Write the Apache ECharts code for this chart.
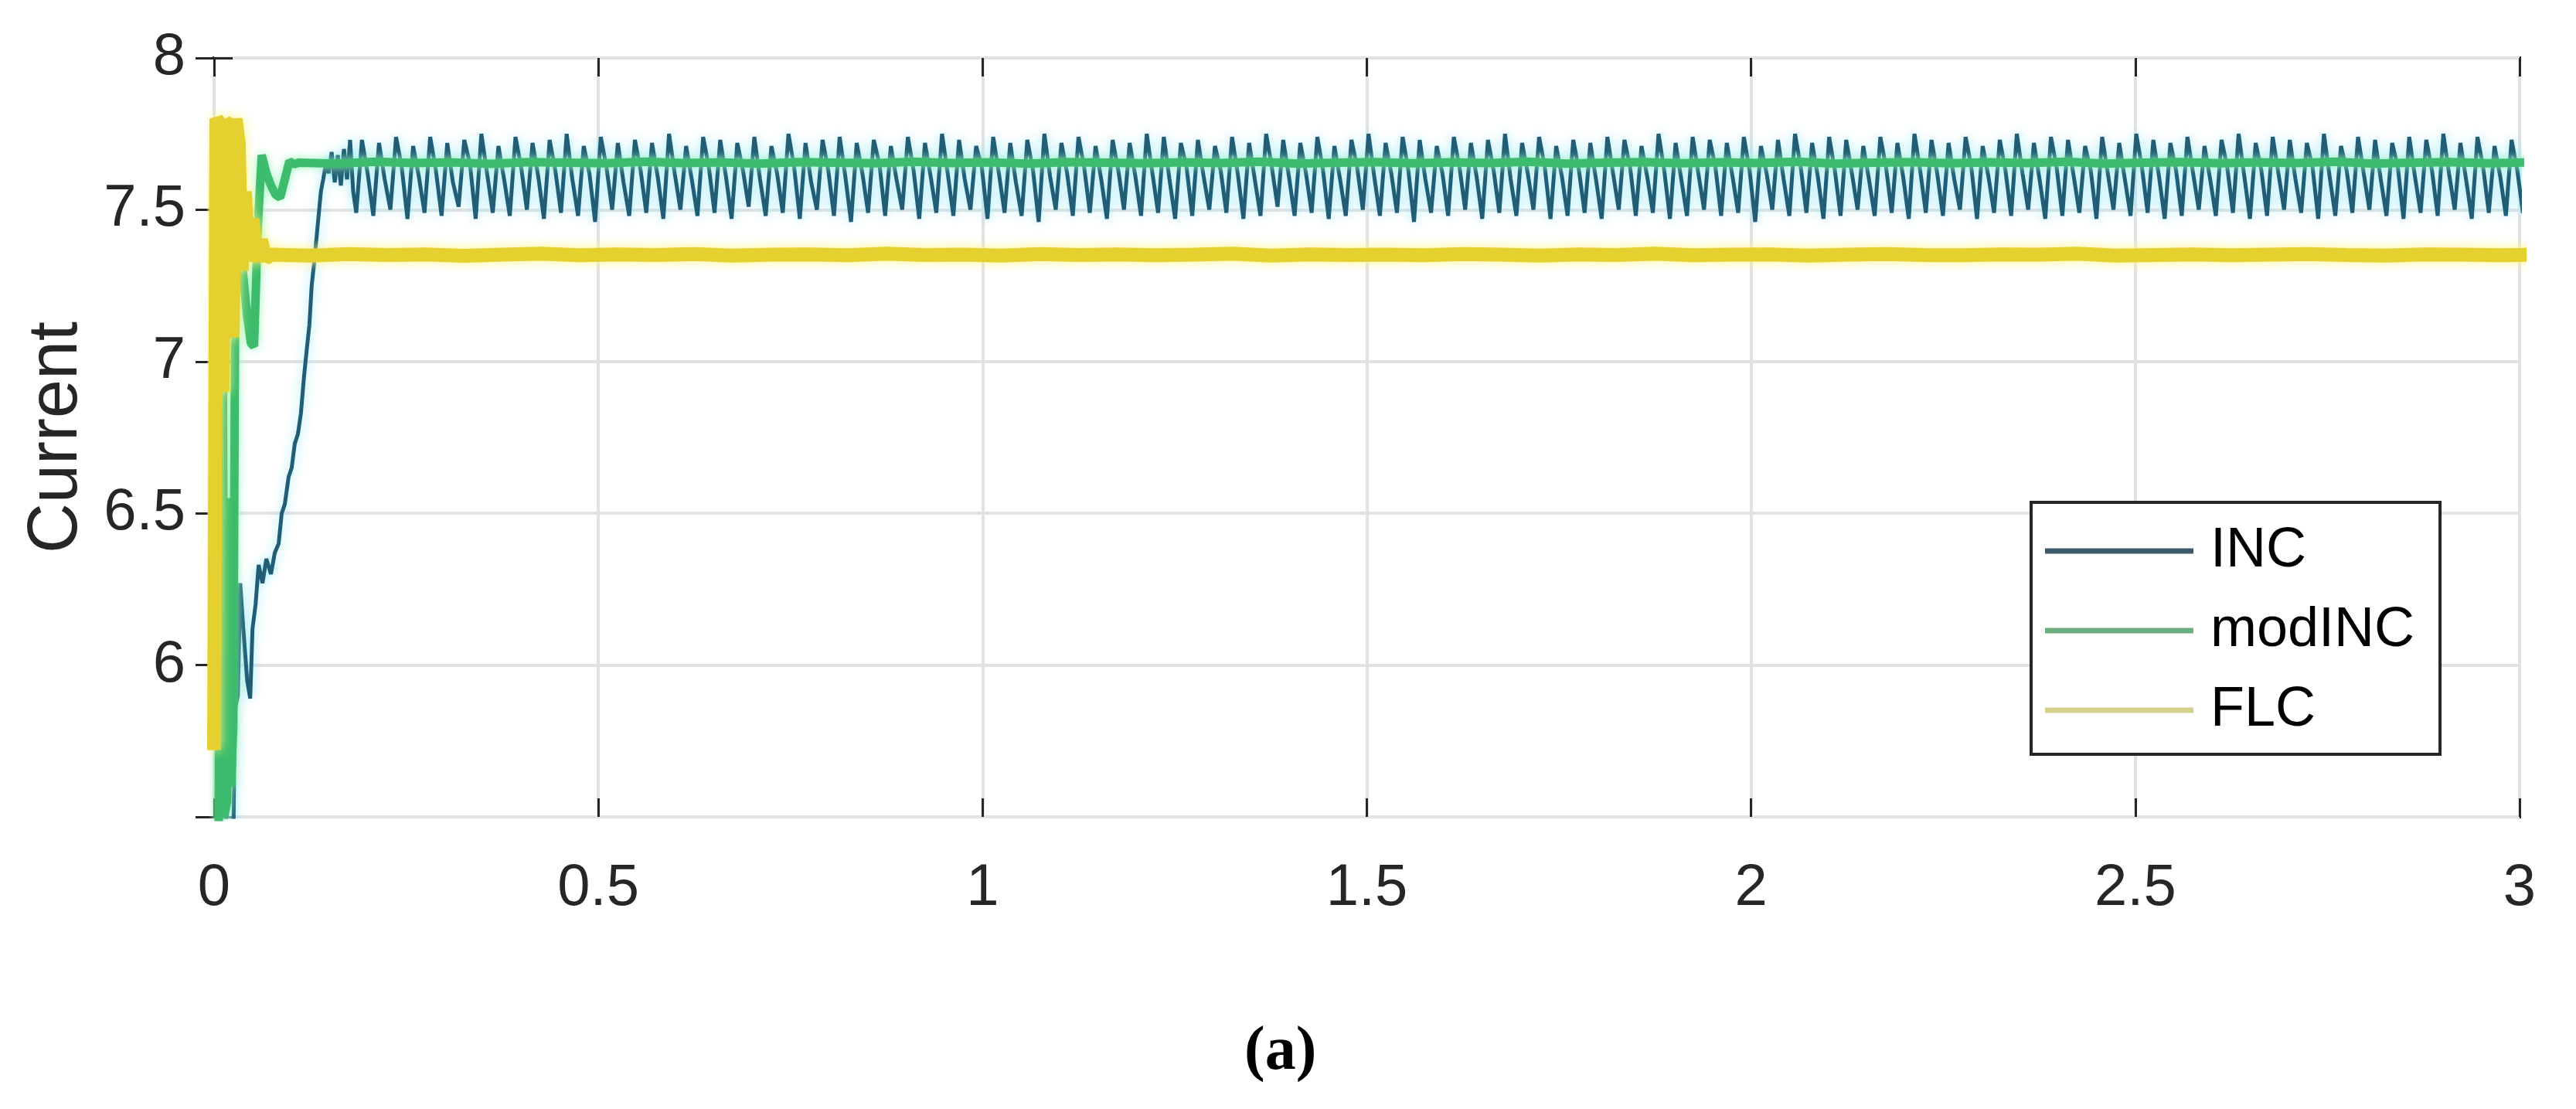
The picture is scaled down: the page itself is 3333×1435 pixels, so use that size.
<!DOCTYPE html>
<html>
<head>
<meta charset="utf-8">
<script src="https://cdn.jsdelivr.net/npm/echarts@6/dist/echarts.min.js"></script>
<style>
html,body{margin:0;padding:0;background:#fff;}
#chart{width:3333px;height:1435px;}
</style>
</head>
<body>
<div id="chart"></div>
<script>
// ---------------- data ----------------
const SERIES_NAMES = ['INC', 'modINC', 'FLC'];
const X_TICKS = [0, 0.5, 1, 1.5, 2, 2.5, 3];
const Y_TICKS = [6, 6.5, 7, 7.5, 8];

// INC: start-up transient [time, current]
const INC_TRANSIENT = [
  [0.000,5.30],[0.011,5.30],[0.013,5.72],[0.016,5.45],[0.025,5.40],[0.027,5.85],[0.031,5.90],
  [0.034,6.27],[0.038,6.12],[0.043,5.95],[0.047,5.89],[0.050,6.12],[0.054,6.20],[0.058,6.33],
  [0.063,6.27],[0.068,6.35],[0.074,6.30],[0.079,6.37],[0.084,6.40],[0.088,6.50],[0.092,6.53],
  [0.097,6.62],[0.101,6.65],[0.105,6.73],[0.109,6.76],[0.113,6.83],[0.117,6.95],[0.121,7.05],
  [0.124,7.12],[0.127,7.25],[0.130,7.32],[0.133,7.40],[0.136,7.48],[0.139,7.56],[0.142,7.60],
  [0.146,7.66],[0.149,7.62],[0.153,7.69],[0.157,7.59],[0.161,7.68],[0.165,7.58],[0.169,7.70],
  [0.173,7.60],[0.177,7.73],[0.181,7.56]
];
// INC: steady-state ripple, sampled from t = 0.185 s every 0.0074 s
const INC_T0 = 0.185;
const INC_DT = 0.0074;
const INC_STEADY = [
  7.49,7.73,7.62, 7.48,7.72,7.60, 7.50,7.74,7.64, 7.47,7.71,7.61, 7.49,7.74,7.63, 7.48,7.72,7.59, 7.51,7.73,7.65, 7.47,7.75,7.62,
  7.49,7.71,7.60, 7.48,7.74,7.64, 7.50,7.72,7.61, 7.47,7.73,7.63, 7.49,7.75,7.60, 7.48,7.71,7.62, 7.46,7.74,7.64, 7.50,7.72,7.59,
  7.48,7.73,7.63, 7.49,7.72,7.61, 7.47,7.75,7.62, 7.50,7.71,7.60, 7.48,7.74,7.64, 7.49,7.73,7.61, 7.47,7.72,7.63, 7.51,7.74,7.60,
  7.48,7.71,7.62, 7.49,7.75,7.64, 7.47,7.72,7.59, 7.50,7.73,7.63, 7.48,7.74,7.61, 7.46,7.72,7.62, 7.49,7.73,7.65, 7.48,7.71,7.60,
  7.50,7.74,7.63, 7.47,7.72,7.61, 7.49,7.75,7.62, 7.48,7.73,7.60, 7.50,7.71,7.64, 7.47,7.74,7.62, 7.49,7.72,7.59, 7.48,7.73,7.63,
  7.46,7.75,7.61, 7.50,7.72,7.62, 7.48,7.74,7.64, 7.49,7.71,7.60, 7.47,7.73,7.63, 7.50,7.72,7.61, 7.48,7.75,7.62, 7.49,7.74,7.60,
  7.47,7.72,7.64, 7.48,7.73,7.61, 7.50,7.71,7.63, 7.49,7.74,7.62, 7.47,7.72,7.60, 7.48,7.75,7.64, 7.51,7.73,7.61, 7.48,7.72,7.62,
  7.49,7.74,7.63, 7.47,7.71,7.60, 7.48,7.73,7.64, 7.50,7.75,7.61, 7.48,7.72,7.62, 7.49,7.74,7.63, 7.46,7.73,7.60, 7.49,7.71,7.62,
  7.48,7.74,7.64, 7.50,7.72,7.61, 7.47,7.73,7.63, 7.49,7.75,7.60, 7.48,7.72,7.62, 7.50,7.74,7.64, 7.47,7.71,7.61, 7.48,7.73,7.63,
  7.49,7.72,7.60, 7.47,7.74,7.62, 7.50,7.73,7.64, 7.48,7.71,7.61, 7.49,7.75,7.63, 7.47,7.72,7.60, 7.48,7.74,7.62, 7.50,7.73,7.64,
  7.48,7.72,7.61, 7.49,7.74,7.63, 7.46,7.71,7.62, 7.50,7.73,7.60, 7.48,7.75,7.64, 7.49,7.72,7.61, 7.47,7.74,7.63, 7.48,7.73,7.62,
  7.50,7.71,7.60, 7.48,7.74,7.64, 7.49,7.72,7.61, 7.47,7.75,7.63, 7.49,7.73,7.62, 7.48,7.72,7.60, 7.50,7.74,7.64, 7.47,7.71,7.61,
  7.49,7.73,7.63, 7.48,7.75,7.62, 7.50,7.72,7.60, 7.47,7.74,7.64, 7.48,7.73,7.61, 7.49,7.71,7.63, 7.47,7.74,7.62, 7.50,7.72,7.60,
  7.48,7.75,7.64, 7.49,7.73,7.61, 7.47,7.72,7.63, 7.48,7.74,7.62, 7.50,7.71,7.60, 7.48,7.73,7.64, 7.49,7.75,7.61, 7.47,7.72,7.63,
  7.48,7.74,7.62, 7.50,7.73,7.60, 7.49,7.72,7.64, 7.47,7.75,7.61, 7.48,7.71,7.63, 7.49,7.74,7.62, 7.50,7.73,7.60, 7.48,7.72,7.64,
  7.47,7.74,7.61, 7.49,7.73,7.63, 7.48,7.75,7.62, 7.50,7.72,7.60, 7.47,7.74,7.64, 7.49,7.71,7.61, 7.48,7.73,7.63, 7.49,7.72,7.55
];

// modINC: start-up transient [time, current]
const MODINC_TRANSIENT = [
  [0.000,5.45],[0.006,5.45],[0.008,7.60],[0.011,7.45],[0.013,5.50],[0.017,5.55],[0.019,6.55],
  [0.022,5.60],[0.025,5.80],[0.028,7.54],[0.033,7.40],[0.038,7.28],[0.043,7.15],[0.048,7.06],
  [0.052,7.05],[0.057,7.45],[0.062,7.68],[0.068,7.62],[0.074,7.58],[0.080,7.55],[0.086,7.54],
  [0.092,7.60],[0.098,7.66],[0.104,7.65]
];
// modINC: steady state, sampled from t = 0.11 s every 0.05 s
const MODINC_T0 = 0.11;
const MODINC_DT = 0.05;
const MODINC_STEADY = [
  7.655,7.652,7.658,7.654,7.656,7.651,7.657,7.655,7.653,7.658,
  7.654,7.656,7.652,7.657,7.655,7.653,7.658,7.654,7.656,7.652,
  7.657,7.655,7.653,7.656,7.654,7.658,7.652,7.655,7.657,7.653,
  7.656,7.654,7.658,7.652,7.655,7.657,7.653,7.656,7.654,7.658,
  7.652,7.655,7.657,7.653,7.656,7.654,7.658,7.652,7.655,7.657,
  7.653,7.656,7.654,7.658,7.652,7.655,7.657,7.653,7.656
];

// FLC: start-up transient [time, current]
const FLC_TRANSIENT = [
  [0.000,5.72],[0.003,7.80],[0.008,7.78],[0.011,6.90],[0.015,7.79],[0.020,7.78],[0.024,7.08],
  [0.028,7.80],[0.032,7.72],[0.036,7.30],[0.040,7.56],[0.045,7.34],[0.050,7.47],[0.055,7.33],
  [0.061,7.40],[0.067,7.34]
];
// FLC: steady state, sampled from t = 0.075 s every 0.05 s
const FLC_T0 = 0.075;
const FLC_DT = 0.05;
const FLC_STEADY = [
  7.352,7.349,7.354,7.351,7.353,7.348,7.352,7.355,7.350,7.353,
  7.351,7.354,7.349,7.352,7.353,7.350,7.355,7.351,7.352,7.349,
  7.354,7.351,7.353,7.350,7.352,7.355,7.349,7.353,7.351,7.352,
  7.350,7.354,7.352,7.349,7.353,7.351,7.355,7.350,7.352,7.353,
  7.349,7.352,7.354,7.351,7.350,7.353,7.352,7.355,7.349,7.351,
  7.353,7.350,7.352,7.354,7.351,7.349,7.353,7.352,7.350,7.352
];

const CAPTION = '(a)';
const Y_NAME = 'Current';

// ---------------- build ----------------
function join(transient, t0, dt, steady) {
  return transient.concat(steady.map((v, i) => [t0 + i * dt, v]));
}
const incData = join(INC_TRANSIENT, INC_T0, INC_DT, INC_STEADY);
const modData = join(MODINC_TRANSIENT, MODINC_T0, MODINC_DT, MODINC_STEADY);
const flcData = join(FLC_TRANSIENT, FLC_T0, FLC_DT, FLC_STEADY);

const FONT = "'Liberation Sans', Arial, Helvetica, sans-serif";
const AX = '#262626';

const chart = echarts.init(document.getElementById('chart'), null, {renderer: 'canvas'});
const tickStyle = {show: true, inside: true, length: 24, lineStyle: {color: AX, width: 3}};

chart.setOption({
  animation: false,
  backgroundColor: '#ffffff',
  title: {
    text: CAPTION, left: 1610, top: 1322, padding: 0,
    textStyle: {fontFamily: "'Liberation Serif', 'Times New Roman', serif", fontWeight: 'bold', fontSize: 80, color: '#000'}
  },
  grid: {left: 277, right: 73, top: 75, bottom: 378, show: true, borderColor: AX, borderWidth: 4, backgroundColor: '#fff'},
  legend: {
    orient: 'vertical', left: 2628, top: 650,
    padding: [27, 33, 21, 18], itemGap: 31, itemWidth: 192, itemHeight: 7, icon: 'rect',
    backgroundColor: '#fff', borderColor: AX, borderWidth: 4, selectedMode: false,
    textStyle: {fontFamily: FONT, fontSize: 72, color: '#000', padding: [0, 0, 0, 17]},
    data: [
      {name: SERIES_NAMES[0], itemStyle: {color: '#3e5b68'}},
      {name: SERIES_NAMES[1], itemStyle: {color: '#6aae7c'}},
      {name: SERIES_NAMES[2], itemStyle: {color: '#d3d08e'}}
    ]
  },
  xAxis: [
    {
      type: 'value', min: X_TICKS[0], max: X_TICKS[X_TICKS.length - 1], interval: 0.5, position: 'bottom',
      axisLine: {show: false}, axisTick: tickStyle,
      axisLabel: {fontFamily: FONT, fontSize: 76, color: AX, margin: 55},
      splitLine: {show: true, lineStyle: {color: '#e2e2e2', width: 4}}
    },
    {
      type: 'value', min: X_TICKS[0], max: X_TICKS[X_TICKS.length - 1], interval: 0.5, position: 'top',
      axisLine: {show: false}, axisTick: tickStyle, axisLabel: {show: false}, splitLine: {show: false}
    }
  ],
  yAxis: [
    {
      type: 'value', min: 5.5, max: Y_TICKS[Y_TICKS.length - 1], interval: 0.5, position: 'left',
      name: Y_NAME, nameLocation: 'middle', nameGap: 158, nameRotate: 90,
      nameTextStyle: {fontFamily: FONT, fontSize: 90, color: AX},
      axisLine: {show: false}, axisTick: tickStyle,
      axisLabel: {fontFamily: FONT, fontSize: 76, color: AX, margin: 37,
        formatter: v => (Y_TICKS.indexOf(v) >= 0 ? String(v) : '')},
      splitLine: {show: true, lineStyle: {color: '#e2e2e2', width: 4}}
    },
    {
      type: 'value', min: 5.5, max: Y_TICKS[Y_TICKS.length - 1], interval: 0.5, position: 'right',
      axisLine: {show: false}, axisTick: tickStyle, axisLabel: {show: false}, splitLine: {show: false}
    }
  ],
  series: [
    {
      name: SERIES_NAMES[0], type: 'line', data: incData, showSymbol: false, symbol: 'none', clip: true,
      color: '#215d74',
      lineStyle: {color: '#215d74', width: 5, shadowColor: 'rgba(150,232,250,0.95)', shadowBlur: 14}
    },
    {
      name: SERIES_NAMES[1], type: 'line', data: modData, showSymbol: false, symbol: 'none', clip: true,
      color: '#3cbc6c',
      lineStyle: {color: '#3cbc6c', width: 11, shadowColor: 'rgba(150,245,190,0.95)', shadowBlur: 12}
    },
    {
      name: SERIES_NAMES[2], type: 'line', data: flcData, showSymbol: false, symbol: 'none', clip: true,
      color: '#e4d02e',
      lineStyle: {color: '#e4d02e', width: 18, shadowColor: 'rgba(255,245,130,0.95)', shadowBlur: 14}
    }
  ]
});
</script>
</body>
</html>
